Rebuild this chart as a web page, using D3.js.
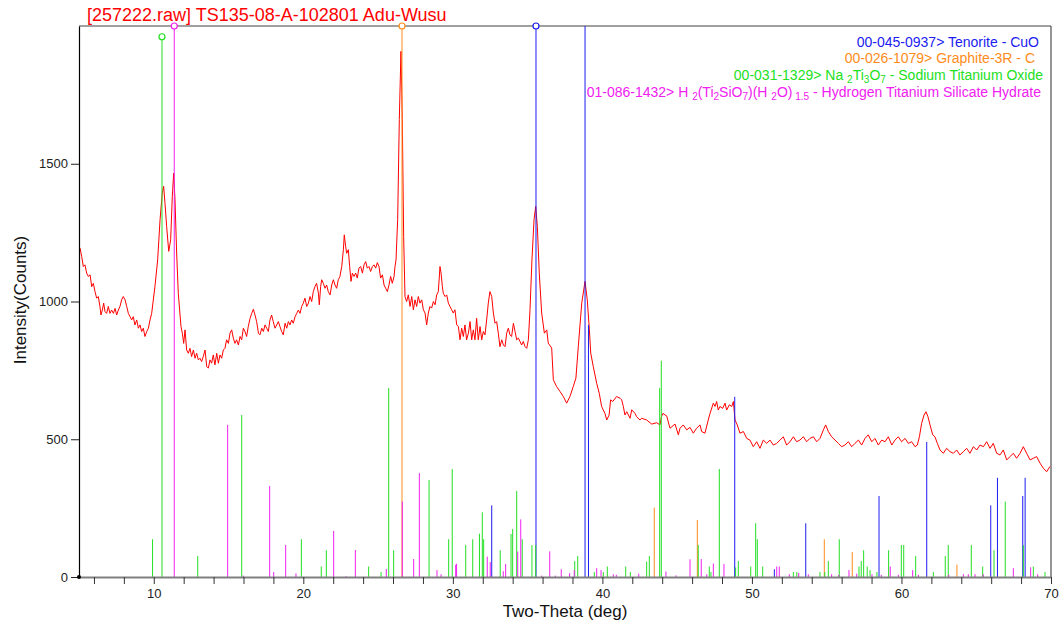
<!DOCTYPE html>
<html><head><meta charset="utf-8">
<script src="https://cdn.jsdelivr.net/npm/d3@7"></script>
<style>
html,body{margin:0;padding:0;background:#fff;}
svg{display:block;font-family:Arial,"Liberation Sans",Helvetica,sans-serif;}
</style></head><body>
<svg id="chart" width="1063" height="628"></svg>
<script>
// Measured scan: 2-theta (deg) and intensity (counts)
const scanTheta = [
  5.07,5.18,5.29,5.40,5.51,5.62,5.74,5.85,5.96,6.07,6.18,6.29,6.40,6.47,6.56,6.65,6.74,6.85,6.96,7.07,7.18,7.30,7.41,7.52,7.63,7.74,7.85,7.96,8.08,8.19,8.30,8.41,8.52,8.63,8.74,8.86,8.97,9.08,9.19,9.30,9.41,9.53,9.64,9.75,9.86,
  10.08,10.26,10.42,10.57,10.66,10.75,10.86,11.00,11.13,11.24,11.33,11.42,11.53,11.64,
  11.82,11.91,12.00,12.09,12.20,12.31,12.42,12.53,12.65,12.76,12.87,12.98,13.09,13.20,13.31,13.43,13.54,13.65,13.76,13.87,13.98,14.09,14.21,14.32,14.43,14.54,14.65,14.76,14.87,14.99,15.10,15.21,15.32,15.43,15.54,15.66,15.77,15.88,15.99,16.10,16.21,16.32,16.44,16.55,16.66,16.77,16.88,17.00,17.10,17.22,17.33,17.44,17.55,17.66,17.77,17.88,17.99,18.11,18.22,18.33,18.44,18.55,18.66,18.78,18.89,19.00,19.11,19.22,19.33,19.45,19.56,19.67,19.78,19.89,20.00,20.11,20.23,20.34,20.45,20.56,20.67,20.78,20.89,21.01,21.07,21.16,21.23,21.34,21.45,21.56,21.67,21.79,21.90,22.01,22.12,22.23,22.34,22.45,22.57,22.68,22.74,22.83,22.90,23.01,23.10,23.19,23.28,23.39,23.50,23.61,23.72,23.84,23.95,24.06,24.17,24.28,24.39,24.50,24.62,24.73,24.84,24.95,25.06,25.17,25.29,25.40,25.51,25.62,25.73,25.84,25.95,26.07,26.13,26.20,
  26.31,26.42,26.53,26.62,26.71,
  26.80,26.91,27.02,27.14,27.25,27.36,27.47,27.58,27.69,27.80,27.92,28.03,28.14,28.25,28.36,28.47,28.58,28.70,28.81,28.92,29.03,29.14,29.21,29.30,29.36,29.48,29.59,29.70,29.81,29.92,30.03,30.14,30.26,30.37,30.48,30.59,30.70,30.81,30.92,31.04,31.15,31.26,31.37,31.48,31.59,31.70,31.82,31.93,32.04,32.15,32.26,32.37,32.48,32.60,32.71,32.82,32.93,33.04,33.15,33.27,33.38,33.49,33.60,33.71,33.82,33.93,34.05,34.16,34.27,34.38,34.49,34.60,34.71,34.83,34.94,35.05,35.16,
  35.29,35.43,35.54,35.65,35.78,35.94,36.12,36.28,36.38,36.61,36.72,36.94,37.17,37.39,37.61,37.83,38.05,38.23,38.39,38.62,38.84,38.99,39.13,39.22,39.39,39.62,39.79,
  39.95,40.06,40.17,40.29,40.45,40.55,40.69,40.95,41.18,41.29,41.40,41.51,41.63,41.85,41.96,42.18,42.29,42.51,42.63,42.96,43.30,43.63,43.85,43.95,44.05,44.19,44.30,44.52,44.86,45.08,
  45.19,45.41,45.64,45.86,46.08,46.30,46.53,46.64,46.86,47.08,47.20,47.42,47.53,47.64,47.75,47.86,48.04,48.20,48.31,48.49,48.65,48.76,48.87,49.02,49.20,49.43,49.65,49.87,50.09,50.32,50.54,50.76,50.99,51.21,51.43,51.65,51.88,52.10,52.32,52.55,52.77,52.99,53.21,53.44,53.66,53.88,54.11,54.33,54.55,54.78,54.93,55.11,55.33,55.56,55.78,56.00,56.22,56.45,56.67,56.89,57.12,57.34,57.56,57.78,58.01,58.23,58.45,58.68,58.90,59.12,59.35,59.57,59.79,60.01,60.24,60.46,60.68,60.91,61.06,61.20,61.35,61.51,61.64,61.77,61.91,62.09,62.24,62.40,62.58,62.80,63.02,63.25,63.47,63.69,63.91,64.14,64.36,64.58,64.81,65.03,65.25,65.48,65.70,65.92,66.14,66.37,66.59,66.81,67.04,67.26,67.48,67.70,67.93,68.15,68.37,68.60,68.82,69.04,69.27,69.49,69.71,69.93];
const scanCounts = [
  1194,1163,1127,1133,1103,1091,1097,1054,1066,1036,1012,1018,982,951,969,994,963,957,982,957,969,957,975,951,969,982,1006,1018,1006,982,957,945,933,945,915,933,903,915,891,903,873,891,903,933,957,
  1055,1151,1297,1394,1418,1357,1273,1182,1224,1381,1466,1369,1176,1030,
  909,885,848,897,824,812,830,800,824,794,812,788,794,782,800,824,764,758,788,776,806,770,812,776,806,794,824,830,861,848,885,897,867,848,861,842,873,861,903,891,873,909,939,957,972,951,927,885,879,903,891,915,903,891,933,951,927,903,915,927,909,891,879,921,903,927,915,933,921,945,957,969,957,982,994,1012,982,994,1018,1000,1036,1054,1066,1030,988,1054,1079,1066,1048,1060,1036,1024,1060,1079,1060,1048,1079,1091,1127,1188,1242,1200,1175,1188,1127,1073,1103,1091,1103,1085,1121,1127,1103,1133,1145,1121,1127,1109,1127,1133,1121,1141,1127,1085,1097,1060,1048,1036,1060,1091,1066,1091,1127,1151,
  1297,1660,1908,1660,1236,
  1018,1000,1024,982,1018,970,1006,982,1018,994,1006,970,958,915,958,982,976,1000,988,1024,1036,1127,1103,1054,1030,1018,1024,994,982,970,958,970,915,909,861,903,873,915,861,885,927,861,897,861,939,861,909,861,891,879,933,994,1036,1018,958,921,927,885,836,861,842,836,885,903,879,873,921,891,861,867,855,842,855,836,830,861,970,
  1151,1297,1345,1273,1103,958,885,897,849,831,716,691,673,655,631,655,691,722,837,994,1073,1006,897,813,764,703,667,
  619,606,594,570,588,643,637,655,649,643,619,588,600,576,607,594,582,570,576,570,555,560,552,582,594,588,585,540,555,516,
  540,552,534,543,522,540,552,528,522,570,594,631,619,637,606,619,612,631,606,625,619,637,570,552,522,528,503,497,473,491,467,497,485,497,479,485,497,509,479,491,509,491,497,509,491,503,509,491,503,534,552,528,509,497,485,473,479,491,473,485,497,479,503,516,491,503,479,497,491,509,479,497,509,491,503,485,491,473,479,509,558,588,600,582,552,516,509,485,461,449,467,455,449,461,443,455,467,449,473,461,479,473,491,467,485,449,443,461,425,437,449,431,449,473,449,425,431,437,413,395,382,401];

// Reference patterns: [2-theta, intensity]
const tenorite = [[32.60,260],[35.56,2300],[38.84,2200],[39.07,915],[48.85,654],[51.50,28],[53.60,195],[58.50,294],[61.69,490],[65.97,260],[66.42,360],[68.11,294],[68.27,360]];
const graphite = [[26.60,2300],[43.47,252],[46.35,207],[54.84,137],[56.71,91],[63.71,45]];
const sodiumTitanate = [[9.92,137],[10.55,1961],[12.94,76],[15.88,588],[19.87,137],[21.20,38],[21.54,97],[24.37,38],[25.20,18],[25.71,686],[26.04,97],[28.41,352],[29.72,137],[29.96,392],[30.86,116],[31.33,137],[31.78,157],[31.97,235],[32.06,137],[33.17,97],[33.89,156],[34.00,174],[34.27,312],[34.64,137],[35.29,116],[35.54,116],[38.15,58],[38.35,76],[39.46,18],[40.06,18],[40.33,38],[41.56,38],[41.87,18],[42.96,56],[43.14,76],[43.83,686],[43.94,785],[46.41,116],[47.15,38],[47.26,18],[47.82,392],[48.91,35],[49.09,58],[49.92,38],[50.25,195],[50.36,137],[50.72,38],[52.77,18],[53.00,18],[54.55,18],[54.87,18],[55.11,58],[55.84,137],[57.16,38],[57.31,58],[57.47,97],[57.71,38],[57.90,25],[58.36,18],[59.14,97],[59.99,116],[60.15,116],[60.95,76],[62.13,18],[62.93,76],[63.13,116],[64.67,116],[65.43,38],[66.19,97],[66.94,274],[68.15,116],[68.82,38],[69.60,18]];
const titaniumSilicate = [[11.37,2300],[14.94,552],[15.99,5],[17.75,330],[18.02,18],[18.82,116],[19.51,13],[22.03,167],[22.85,3],[23.48,98],[25.55,29],[26.62,274],[27.38,65],[27.76,377],[28.94,25],[29.21,10],[30.19,44],[30.25,48],[32.30,74],[32.50,54],[33.37,21],[33.53,47],[34.34,92],[34.54,209],[35.94,5],[36.48,93],[36.85,5],[37.25,28],[37.81,14],[38.12,25],[39.62,32],[39.91,25],[40.73,10],[40.93,8],[42.43,12],[44.25,20],[44.93,6],[45.86,64],[46.61,65],[46.98,10],[47.42,49],[48.13,47],[51.66,38],[51.83,38],[52.50,10],[53.13,15],[53.77,10],[55.33,10],[55.80,8],[56.49,25],[57.01,12],[58.03,10],[58.65,8],[59.25,38],[59.79,8],[60.75,25],[61.13,8],[63.16,8],[64.14,10],[64.47,10],[64.92,10],[65.47,10],[67.48,32],[68.64,35],[69.11,10]];

const phases = [tenorite, graphite, sodiumTitanate, titaniumSilicate];
const phaseColors = ["#1c1cf0", "#ff8c1a", "#22e022", "#f020f0"];

// Legend entries, split into [text, subscript?] runs
const legendRuns = [
  [["00-045-0937> Tenorite - CuO", false]],
  [["00-026-1079> Graphite-3R - C", false]],
  [["00-031-1329> Na ", false], ["2", true], ["Ti", false], ["3", true], ["O", false], ["7", true], [" - Sodium Titanium Oxide", false]],
  [["01-086-1432> H ", false], ["2", true], ["(Ti", false], ["2", true], ["SiO", false], ["7", true], [")(H ", false], ["2", true], ["O)", false], [" 1.5", true], [" - Hydrogen Titanium Silicate Hydrate", false]]
];
const legendRight = [1039, 1035, 1043, 1041];

const titleText = "[257222.raw] TS135-08-A-102801 Adu-Wusu";
const xTitle = "Two-Theta (deg)";
const yTitle = "Intensity(Counts)";
const xTickValues = d3.range(6, 71, 2);
const yTickValues = [0, 500, 1000, 1500];

const svg = d3.select("#chart");
const plotLeft = 79, plotRight = 1051, plotTop = 26, plotBottom = 577;
const x = d3.scaleLinear().domain([5, 70]).range([plotLeft, plotRight]);
const y = d3.scaleLinear().domain([0, 2000]).range([plotBottom, plotTop]);

svg.append("defs").append("clipPath").attr("id", "plotClip")
  .append("rect").attr("x", plotLeft).attr("y", plotTop)
  .attr("width", plotRight - plotLeft).attr("height", plotBottom - plotTop + 1);

// frame: top and right
svg.append("line").attr("x1", plotLeft).attr("x2", plotRight).attr("y1", plotTop).attr("y2", plotTop)
  .attr("stroke", "#808080").attr("stroke-width", 1.5);
svg.append("line").attr("x1", plotRight).attr("x2", plotRight).attr("y1", plotTop).attr("y2", plotBottom)
  .attr("stroke", "#505050").attr("stroke-width", 1.2);

// scan curve
const line = d3.line().x((d, i) => x(scanTheta[i])).y(d => y(d));
svg.append("path").datum(scanCounts)
  .attr("d", line).attr("fill", "none").attr("stroke", "#ff0000").attr("stroke-width", 1)
  .attr("clip-path", "url(#plotClip)");

// reference sticks
const sticks = svg.append("g").attr("clip-path", "url(#plotClip)");
phases.forEach((p, k) => {
  sticks.selectAll(null).data(p).enter().append("line")
    .attr("x1", d => x(d[0])).attr("x2", d => x(d[0]))
    .attr("y1", y(0)).attr("y2", d => y(d[1]))
    .attr("stroke", phaseColors[k]).attr("stroke-width", 1);
});
// markers on the strongest line of each phase
phases.forEach((p, k) => {
  const strongest = p.reduce((a, b) => (b[1] > a[1] ? b : a));
  svg.append("circle")
    .attr("cx", x(strongest[0])).attr("cy", y(Math.min(strongest[1], 2000)))
    .attr("r", 3).attr("fill", "#fff").attr("stroke", phaseColors[k]).attr("stroke-width", 1.2);
});

// x axis
const xAxis = svg.append("g").attr("transform", `translate(0,${plotBottom})`)
  .call(d3.axisBottom(x).tickValues(xTickValues).tickSize(7).tickSizeOuter(0).tickPadding(5)
    .tickFormat(d => (d % 10 === 0 ? d : "")));
xAxis.select(".domain").attr("stroke", "#808080").attr("stroke-width", 2.2);
xAxis.selectAll(".tick line").attr("stroke", "#333");
xAxis.selectAll("text").attr("font-size", 13).attr("fill", "#222")
  .attr("font-family", "Arial,'Liberation Sans',sans-serif");

// y axis
const yAxis = svg.append("g").attr("transform", `translate(${plotLeft},0)`)
  .call(d3.axisLeft(y).tickValues(yTickValues).tickSize(8).tickSizeOuter(0).tickPadding(3)
    .tickFormat(d3.format("d")));
yAxis.select(".domain").attr("stroke", "#000").attr("stroke-width", 1.2);
yAxis.selectAll(".tick line").attr("stroke", "#222");
yAxis.selectAll("text").attr("font-size", 13).attr("fill", "#222")
  .attr("font-family", "Arial,'Liberation Sans',sans-serif");
svg.append("circle").attr("cx", plotLeft).attr("cy", plotBottom).attr("r", 2).attr("fill", "#000");

// titles
svg.append("text").attr("x", 87).attr("y", 21).attr("font-size", 18).attr("fill", "#ff0000").text(titleText);
svg.append("text").attr("x", (plotLeft + plotRight) / 2).attr("y", 617).attr("text-anchor", "middle")
  .attr("font-size", 17).attr("fill", "#111").text(xTitle);
svg.append("text").attr("transform", "translate(26,300) rotate(-90)").attr("text-anchor", "middle")
  .attr("font-size", 17).attr("fill", "#111").text(yTitle);

// legend
legendRuns.forEach((runs, i) => {
  const t = svg.append("text").attr("x", legendRight[i]).attr("y", 46.5 + i * 16.7)
    .attr("text-anchor", "end").attr("font-size", 14).attr("fill", phaseColors[i]);
  let shifted = false;
  runs.forEach(([s, sub]) => {
    const ts = t.append("tspan").text(s);
    if (sub) {
      ts.attr("font-size", 10);
      if (!shifted) { ts.attr("dy", 3); shifted = true; }
    } else if (shifted) {
      ts.attr("dy", -3); shifted = false;
    }
  });
});
</script>
</body></html>
